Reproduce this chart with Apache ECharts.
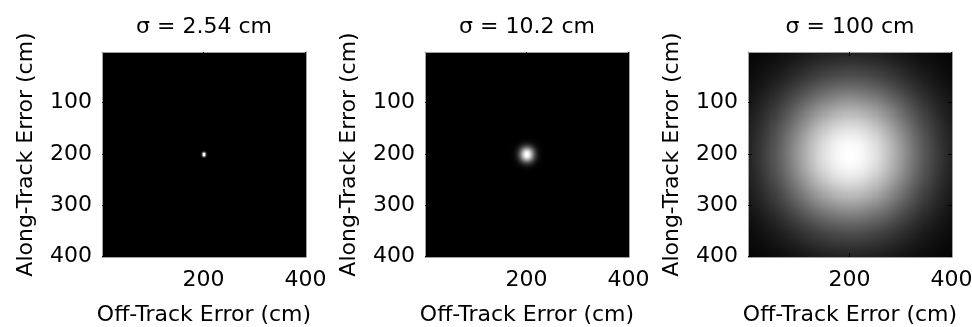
<!DOCTYPE html>
<html>
<head>
<meta charset="utf-8">
<script src="https://cdn.jsdelivr.net/npm/echarts@6/dist/echarts.min.js"></script>
<style>
  html, body { margin: 0; padding: 0; background: #fff; }
  #chart { width: 972px; height: 327px; }
</style>
</head>
<body>
<div id="chart"></div>
<script>
// Gaussian position-error footprints, one panel per sigma.
const panelTitles = ['σ = 2.54 cm', 'σ = 10.2 cm', 'σ = 100 cm'];
const sigmasCm = [2.54, 10.2, 100];
const centerCm = [200, 200];          // [off-track, along-track]
const extentCm = 400;
const cellCm = 2;
const xTickValues = [200, 400];
const yTickValues = [100, 200, 300, 400];
const xAxisName = 'Off-Track Error (cm)';
const yAxisName = 'Along-Track Error (cm)';

const FONT = 'DejaVu Sans';
const FS = 22;
const FRAME = '#a0a0a0';

// Cell categories labelled by their upper edge in cm: 2, 4, ..., 400
const nCells = extentCm / cellCm;
const cellEdges = [];
for (let i = 0; i < nCells; i++) cellEdges.push(String((i + 1) * cellCm));

function gaussianCells(sigma) {
  const out = [];
  let peak = 0;
  for (let yi = 0; yi < nCells; yi++) {
    const y = (yi + 0.5) * cellCm;
    for (let xi = 0; xi < nCells; xi++) {
      const x = (xi + 0.5) * cellCm;
      const r2 = (x - centerCm[0]) ** 2 + (y - centerCm[1]) ** 2;
      const v = Math.exp(-r2 / (2 * sigma * sigma));
      if (v > peak) peak = v;
      out.push([xi, yi, v]);
    }
  }
  // scale each panel to its own maximum
  for (const d of out) d[2] = d[2] / peak;
  return out;
}

// Image cells snapped to whole pixels so neighbouring cells meet without seams
function renderCell(params, api) {
  const c = api.coord([api.value(0), api.value(1)]);
  const s = api.size([1, 1]);
  const x0 = Math.round(c[0] - s[0] / 2), x1 = Math.round(c[0] + s[0] / 2);
  const y0 = Math.round(c[1] - s[1] / 2), y1 = Math.round(c[1] + s[1] / 2);
  return {
    type: 'rect',
    shape: { x: x0, y: y0, width: x1 - x0, height: y1 - y0 },
    style: { fill: api.visual('color') },
    silent: true
  };
}

const lefts = [102, 425, 748];
const gridW = 204, gridH = 205, gridTop = 52;

const grids = [], xAxes = [], yAxes = [], series = [], titles = [];
const textStyle = { color: '#000', fontFamily: FONT, fontSize: FS };

lefts.forEach((left, k) => {
  grids.push({
    left: left, top: gridTop, width: gridW, height: gridH,
    outerBoundsMode: 'none', containLabel: false,
    show: true, backgroundColor: '#000', borderWidth: 0
  });
  const xShow = (idx, val) => xTickValues.indexOf(Number(val)) >= 0;
  const yShow = (idx, val) => yTickValues.indexOf(Number(val)) >= 0;
  const frameLine = { show: true, lineStyle: { color: FRAME, width: 1 } };
  const tick = (fn) => ({ show: true, inside: true, length: 4, alignWithLabel: true, interval: fn,
                          lineStyle: { color: '#000' } });

  // bottom / left axes: ticks, labels and names
  xAxes.push({
    type: 'category', gridIndex: k, data: cellEdges, position: 'bottom', z: 10,
    axisLine: frameLine, axisTick: tick(xShow),
    axisLabel: Object.assign({ interval: xShow, margin: 12 }, textStyle),
    splitLine: { show: false },
    name: xAxisName, nameLocation: 'middle', nameGap: 47, nameTextStyle: textStyle
  });
  yAxes.push({
    type: 'category', gridIndex: k, data: cellEdges, inverse: true, position: 'left', z: 10,
    axisLine: frameLine, axisTick: tick(yShow),
    axisLabel: Object.assign({ interval: yShow, margin: 10 }, textStyle),
    splitLine: { show: false },
    name: yAxisName, nameLocation: 'middle', nameGap: 65, nameRotate: 90, nameTextStyle: textStyle
  });
  // top / right axes close the frame
  xAxes.push({
    type: 'category', gridIndex: k, data: cellEdges, position: 'top', z: 10,
    axisLine: frameLine, axisTick: tick(xShow),
    axisLabel: { show: false }, splitLine: { show: false }
  });
  yAxes.push({
    type: 'category', gridIndex: k, data: cellEdges, inverse: true, position: 'right', z: 10,
    axisLine: frameLine, axisTick: tick(yShow),
    axisLabel: { show: false }, splitLine: { show: false }
  });

  series.push({
    type: 'custom', xAxisIndex: 2 * k, yAxisIndex: 2 * k,
    renderItem: renderCell,
    encode: { x: 0, y: 1 },
    data: gaussianCells(sigmasCm[k]),
    progressive: 0, animation: false, clip: true
  });
  titles.push({
    text: panelTitles[k], left: left + gridW / 2, top: 16, textAlign: 'center', padding: 0,
    textStyle: Object.assign({ fontWeight: 'normal' }, textStyle)
  });
});

const chart = echarts.init(document.getElementById('chart'), null, { renderer: 'canvas' });
chart.setOption({
  animation: false,
  backgroundColor: '#fff',
  title: titles,
  grid: grids,
  xAxis: xAxes,
  yAxis: yAxes,
  visualMap: {
    type: 'continuous', show: false, min: 0, max: 1, dimension: 2,
    seriesIndex: [0, 1, 2],
    inRange: { color: ['#000000', '#ffffff'] }
  },
  series: series
});
</script>
</body>
</html>
